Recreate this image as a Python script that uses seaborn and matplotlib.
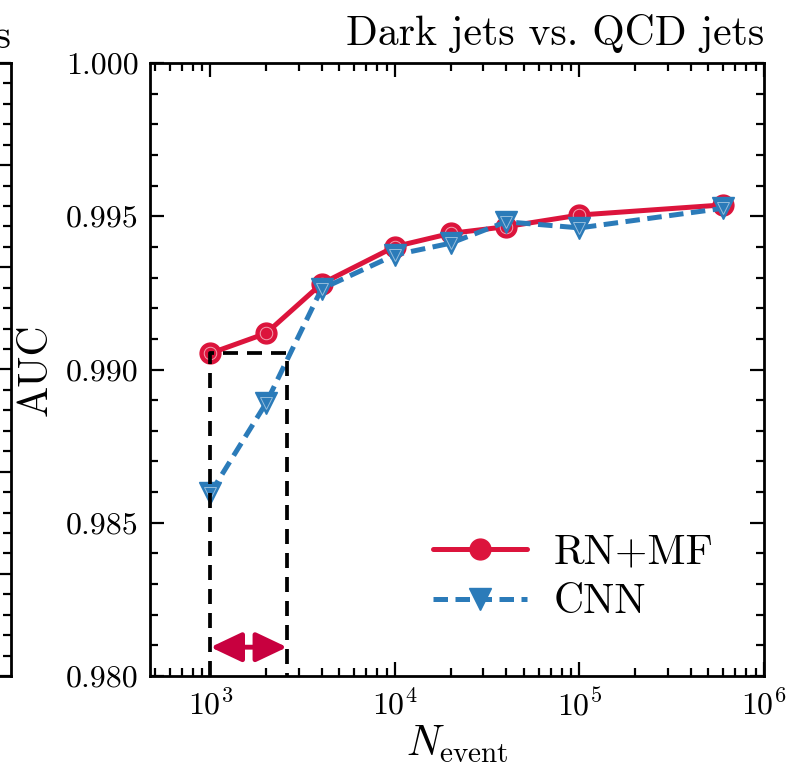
import numpy as np
import pandas as pd
import matplotlib
matplotlib.use("Agg")
import matplotlib.pyplot as plt
import matplotlib.ticker as mticker
import seaborn as sns

# Training-set sizes and test AUC for the two classifiers
n_event = [1e3, 2e3, 4e3, 1e4, 2e4, 4e4, 1e5, 6e5]
auc_rn_mf = [0.99053, 0.99118, 0.99280, 0.99401, 0.99444, 0.99466, 0.99504, 0.99537]
auc_cnn = [0.98597, 0.98890, 0.99263, 0.99374, 0.99412, 0.99482, 0.99462, 0.99526]

# Events CNN needs to reach the RN+MF AUC obtained with 10^3 events
n_match = 2.6e3

sns.set_theme(style="ticks")
plt.rcParams.update({
    "font.family": "serif",
    "font.serif": ["cmr10", "DejaVu Serif"],
    "mathtext.fontset": "cm",
    "axes.formatter.use_mathtext": True,
    "axes.linewidth": 2.0,
    "axes.edgecolor": "black",
    "xtick.color": "black",
    "ytick.color": "black",
    "text.color": "black",
    "axes.labelcolor": "black",
})

red = "#DC143C"
blue = "#2B7BB9"
arrow_red = "#C8003F"
line_w = 3.6
cnn_dash = (0, (2.9, 1.5))

fig = plt.figure(figsize=(7.87, 7.68), dpi=100)

# neighbouring panel (only its right edge falls inside the figure)
ax0 = fig.add_axes([-0.6, 0.1198, 0.6 + 11 / 787, 0.7982])
ax0.set_ylim(0.7, 1.0)
ax0.set_xlim(0, 1)
ax0.yaxis.set_major_locator(mticker.MultipleLocator(0.05))
ax0.yaxis.set_minor_locator(mticker.MultipleLocator(0.01))
ax0.tick_params(which="both", direction="in", right=True, left=False,
                labelleft=False, bottom=False, labelbottom=False, width=1.6)
ax0.tick_params(which="major", length=10)
ax0.tick_params(which="minor", length=6)
ax0.set_title("QCD jets", loc="right", fontsize=30, pad=11)

ax = fig.add_axes([150 / 787, 92 / 768, 614 / 787, 613 / 768])

df = pd.DataFrame({"N": n_event, "RN+MF": auc_rn_mf, "CNN": auc_cnn})

sns.lineplot(data=df, x="N", y="RN+MF", ax=ax, color=red,
             marker="o", markersize=15, markerfacecolor=red,
             markeredgecolor=red, markeredgewidth=1.0, label="RN+MF",
             zorder=3)
sns.lineplot(data=df, x="N", y="CNN", ax=ax, color=blue,
             marker="v", markersize=16,
             markerfacecolor=blue, markeredgecolor=blue,
             markeredgewidth=1.0, label="CNN", zorder=4)
ax.lines[0].set_linewidth(line_w)
ax.lines[1].set_linewidth(line_w)
ax.lines[1].set_linestyle(cnn_dash)

# faint inner rings on the markers
ax.plot(n_event, auc_rn_mf, ls="none", marker="o", markersize=9,
        mfc="none", mec="white", mew=0.7, alpha=0.6, zorder=3.5)
ax.plot(n_event, auc_cnn, ls="none", marker="v", markersize=9,
        mfc="none", mec="white", mew=0.7, alpha=0.5, zorder=4.5)

ax.set_xscale("log")
ax.set_xlim(470, 1e6)
ax.set_ylim(0.980, 1.000)

# dashed box from 10^3 to the matching CNN sample size
rect_x = [n_event[0], n_event[0], n_match, n_match]
rect_y = [0.980, auc_rn_mf[0], auc_rn_mf[0], 0.980]
ax.plot(rect_x, rect_y, color="black", lw=2.7, ls=(0, (4.0, 2.4)),
        zorder=5, clip_on=False)

ax.annotate("", xy=(n_event[0], 0.98094), xytext=(n_match, 0.98094),
            arrowprops=dict(arrowstyle="<|-|>,head_length=0.95,head_width=0.45",
                            color=arrow_red, lw=3.5, mutation_scale=20,
                            shrinkA=0, shrinkB=0), zorder=6)

ax.yaxis.set_major_locator(mticker.MultipleLocator(0.005))
ax.yaxis.set_minor_locator(mticker.MultipleLocator(0.001))
ax.yaxis.set_major_formatter(mticker.StrMethodFormatter("{x:.3f}"))
ax.xaxis.set_major_locator(mticker.LogLocator(base=10, numticks=10))
ax.xaxis.set_minor_locator(mticker.LogLocator(base=10, subs=np.arange(2, 10), numticks=20))
ax.xaxis.set_minor_formatter(mticker.NullFormatter())

ax.tick_params(which="both", direction="in", top=True, right=True,
               width=1.6, labelsize=23)
ax.tick_params(which="major", length=10, pad=8)
ax.tick_params(which="minor", length=6)
ax.tick_params(axis="x", which="major", pad=9)

ax.set_xlabel(r"$N_{\rm event}$", fontsize=30, labelpad=2)
ax.set_ylabel("AUC", fontsize=30, labelpad=8)
ax.set_title("Dark jets vs. QCD jets", loc="right", fontsize=30, pad=13)

leg = ax.legend(loc="lower right", bbox_to_anchor=(0.945, 0.062), frameon=False,
                fontsize=30, handlelength=2.25, handletextpad=0.65,
                labelspacing=0.3, borderaxespad=0)
for h in leg.get_lines():
    h.set_linewidth(line_w)
leg.get_lines()[1].set_linestyle(cnn_dash)

fig.savefig("out.png", dpi=100)
